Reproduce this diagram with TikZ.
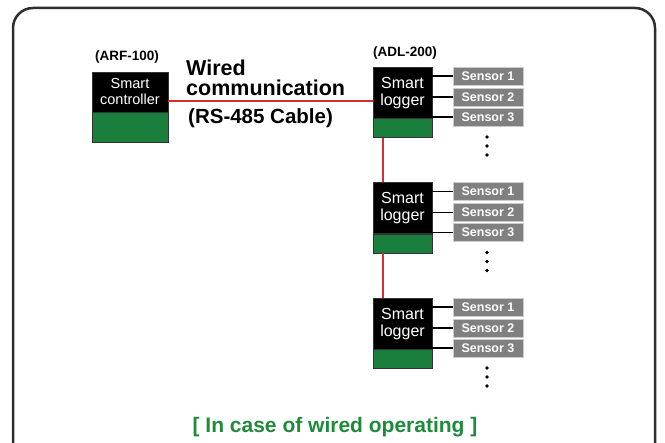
\documentclass[tikz,border=0pt]{standalone}
\usepackage{fontspec}
\setmainfont{Liberation Sans}
\definecolor{boxgreen}{HTML}{1A7E3D}
\definecolor{textgreen}{HTML}{1E8A3A}
\definecolor{sensorgray}{HTML}{808080}
\definecolor{cablered}{HTML}{D43030}
\definecolor{framegray}{HTML}{2E2E2E}
\tikzset{
  headbox/.style={fill=black, draw=black!80, text=white, minimum width=59pt,
    minimum height=51pt, inner sep=0pt, align=center, font=\fontsize{16}{17}\selectfont},
  footbox/.style={fill=boxgreen, draw=black!80, minimum width=59pt,
    minimum height=19pt, inner sep=0pt},
  sensorbox/.style={fill=sensorgray, draw=black!20, text=white, minimum width=70pt,
    minimum height=18pt, inner sep=0pt, font=\bfseries\fontsize{12.5}{12.5}\selectfont},
  cable/.style={cablered, line width=1.5pt},
  wire/.style={black, line width=1.3pt},
  modeltag/.style={font=\bfseries\fontsize{13.5}{14}\selectfont},
  cabletag/.style={font=\bfseries\fontsize{21.5}{21.5}\selectfont, inner sep=0pt},
}
\begin{document}
\begin{tikzpicture}[x=1pt,y=-1pt]
  \useasboundingbox (0,0) rectangle (665,443);
  % frame, open at the bottom
  \draw[framegray, line width=2.5pt, rounded corners=20pt]
    (13,450) -- (13,8) -- (655,8) -- (655,450);

  % controller
  \node[headbox, minimum width=76pt, minimum height=40pt,
    font=\fontsize{14.5}{16}\selectfont] (ctrl) at (130,92) {Smart\\controller};
  \node[footbox, minimum width=76pt, minimum height=30pt, anchor=north] (ctrlf) at (ctrl.south) {};
  \node[modeltag] (arf) at (127,57) {(ARF-100)};

  % loggers with their sensors
  \foreach \i/\y in {1/67,2/182.5,3/298} {
    \node[headbox, anchor=north] (lg\i) at (402.5,\y) {Smart\\logger};
    \node[footbox, anchor=north] (lgf\i) at (lg\i.south) {};
    \foreach \j/\d in {1/9,2/30,3/50} {
      \node[sensorbox] (s\i\j) at (488,\y+\d) {Sensor \j};
      \draw[wire] (lg\i.east |- s\i\j.west) -- (s\i\j.west);
    }
    \foreach \d in {70,79,88} \fill (487,\y+\d) circle (1.8pt);
  }
  \node[modeltag] (adl) at (405,53) {(ADL-200)};

  % RS-485 cable
  \draw[cable] ([yshift=-9pt]ctrl.east) -- ([yshift=-9pt]ctrl.east -| lg1.west);
  \draw[cable] ([xshift=-19.5pt]lgf1.south) -- ([xshift=-19.5pt]lg2.north);
  \draw[cable] ([xshift=-19.5pt]lgf2.south) -- ([xshift=-19.5pt]lg3.north);
  \node[cabletag, anchor=base west] (wired) at (186,76) {Wired};
  \node[cabletag, anchor=base west] (comm) at (186,96) {communication};
  \node[cabletag, font=\bfseries\fontsize{20.5}{20.5}\selectfont, anchor=base west]
    (rs) at (188,124) {(RS-485 Cable)};

  \node[font=\bfseries\fontsize{21}{21}\selectfont, text=textgreen, anchor=base]
    (case) at (335,433) {[ In case of wired operating ]};
\end{tikzpicture}
\end{document}
